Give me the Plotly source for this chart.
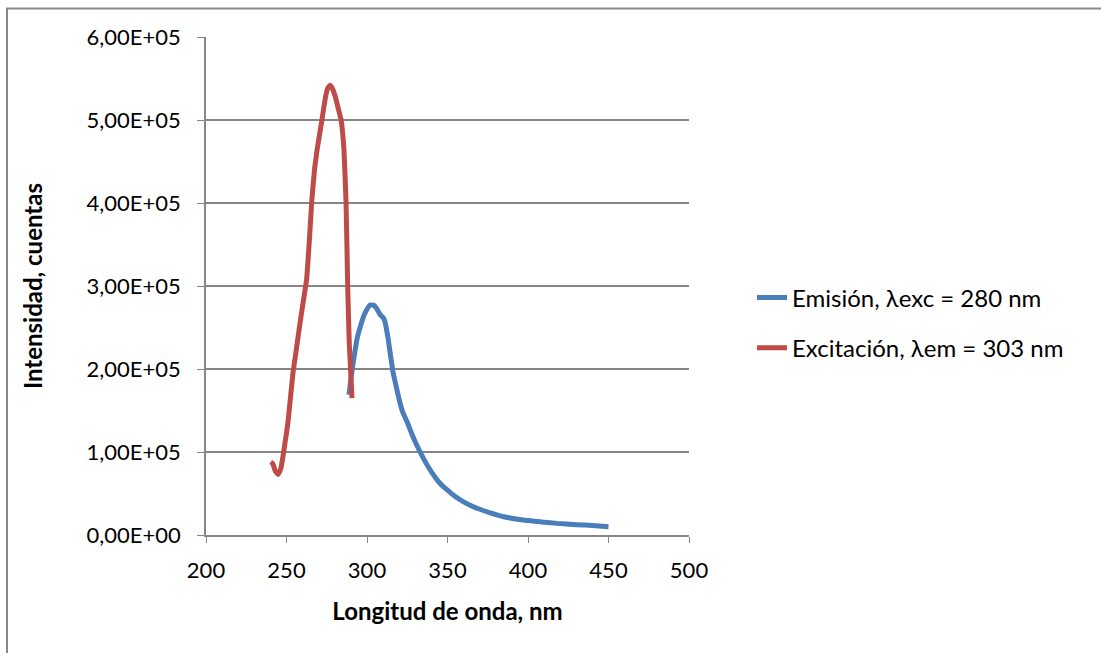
import plotly.graph_objects as go

# Emission spectrum (lambda_exc = 280 nm)
em_wl = [288.8, 290, 292, 294, 296, 298, 300, 302, 304, 306, 308, 310, 311,
         313, 316, 318, 320, 322, 325, 328, 330, 333, 336, 340, 345, 350,
         355, 360, 365, 370, 376, 385, 397, 410, 418, 430, 440, 450]
em_int = [1.69e5, 1.88e5, 2.15e5, 2.38e5, 2.52e5, 2.64e5, 2.72e5, 2.77e5, 2.77e5,
          2.73e5, 2.66e5, 2.62e5, 2.58e5, 2.38e5, 1.98e5, 1.80e5, 1.63e5, 1.49e5,
          1.36e5, 1.21e5, 1.12e5, 1.00e5, 0.89e5, 0.76e5, 0.63e5, 0.54e5, 0.46e5,
          0.40e5, 0.35e5, 0.31e5, 0.27e5, 0.22e5, 0.18e5, 0.155e5, 0.14e5,
          0.125e5, 0.115e5, 0.10e5]

# Excitation spectrum (lambda_em = 303 nm)
ex_wl = [240.2, 241.5, 243, 244.8, 246.5, 248, 250.3, 251.1, 254, 256, 258,
         260, 262.5, 264.2, 265.8, 267.5, 269, 272, 274, 275.5, 277, 278.5,
         280, 282, 283.9, 285.7, 287, 288, 289, 290.7]
ex_int = [0.88e5, 0.86e5, 0.77e5, 0.73e5, 0.80e5, 0.97e5, 1.27e5, 1.39e5,
          1.95e5, 2.22e5, 2.50e5, 2.76e5, 3.08e5, 3.55e5, 4.05e5, 4.42e5, 4.64e5,
          5.00e5, 5.25e5, 5.38e5, 5.42e5, 5.38e5, 5.30e5, 5.15e5, 5.00e5,
          4.64e5, 4.00e5, 3.00e5, 2.30e5, 1.65e5]

x_ticks = [200, 250, 300, 350, 400, 450, 500]
y_ticks = [0, 1e5, 2e5, 3e5, 4e5, 5e5, 6e5]
y_labels = ["0,00E+00", "1,00E+05", "2,00E+05", "3,00E+05", "4,00E+05", "5,00E+05", "6,00E+05"]

FONT = "Lato, 'Liberation Sans', Arial, sans-serif"

fig = go.Figure()
fig.add_trace(go.Scatter(x=em_wl, y=em_int, mode="lines", name="Emisión, λexc = 280 nm",
                         line=dict(color="#4a7ebb", width=5, shape="spline", smoothing=0.3),
                         legendgroup="a"))
fig.add_trace(go.Scatter(x=ex_wl, y=ex_int, mode="lines", name="Excitación, λem = 303 nm",
                         line=dict(color="#be4b48", width=5, shape="spline", smoothing=0.3),
                         legendgroup="b"))

L, R, T, B = 206, 689, 37, 535
W, H = 1101, 653
pw, ph = R - L, B - T

fig.update_layout(
    width=W, height=H,
    margin=dict(l=L, r=W - R, t=T, b=H - B),
    paper_bgcolor="white", plot_bgcolor="white",
    font=dict(family=FONT, color="black", size=22),
    showlegend=True,
    legend=dict(x=(752 - L) / pw, y=(B - 323) / ph, xanchor="left", yanchor="middle",
                font=dict(size=24, family=FONT), traceorder="grouped",
                tracegroupgap=16, bgcolor="rgba(0,0,0,0)"),
    xaxis=dict(range=[200, 500], tickvals=x_ticks, ticktext=[str(v) for v in x_ticks],
               showgrid=False, zeroline=False, showline=True, linecolor="#868686",
               linewidth=1.5, ticks="outside", ticklen=6, tickcolor="#868686",
               tickfont=dict(size=22), ticklabelstandoff=9,
               title=dict(text="<b>Longitud de onda, nm</b>", font=dict(size=24), standoff=21)),
    yaxis=dict(range=[0, 6e5], tickvals=y_ticks, ticktext=y_labels,
               showgrid=True, gridcolor="#868686", gridwidth=1.5, zeroline=False,
               showline=True, linecolor="#868686", linewidth=1.5,
               ticks="outside", ticklen=7, tickcolor="#868686",
               tickfont=dict(size=22), ticklabelstandoff=12,
               title=dict(text="<b>Intensidad, cuentas</b>", font=dict(size=24), standoff=37)),
)

# outer chart border
fig.add_shape(type="rect", xref="paper", yref="paper",
              x0=(7 - L) / pw, x1=(1200 - L) / pw,
              y0=(B - 700) / ph, y1=(B - 8.5) / ph,
              line=dict(color="#898989", width=2), fillcolor="rgba(0,0,0,0)", layer="below")

fig.write_html("out.html")
